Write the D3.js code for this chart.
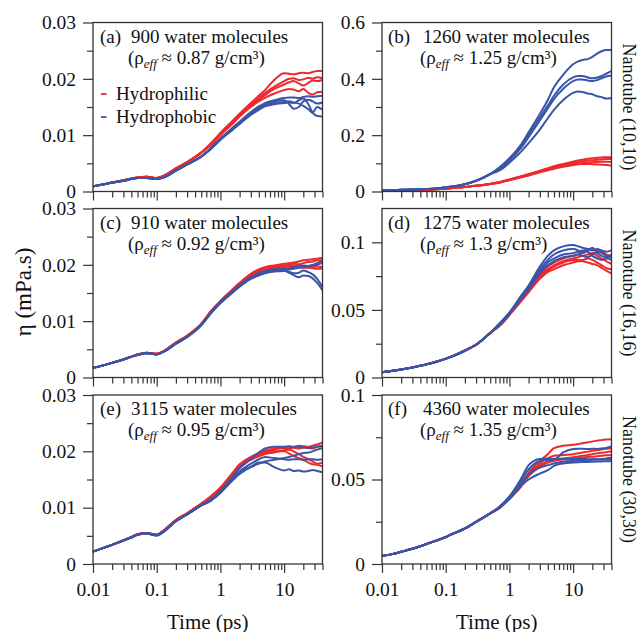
<!DOCTYPE html>
<html>
<head>
<meta charset="utf-8">
<script src="https://cdn.jsdelivr.net/npm/d3@7"></script>
<style>
  html, body { margin: 0; padding: 0; background: #fff; }
  svg { display: block; font-family: "Liberation Serif", "Times New Roman", serif; }
  text { font-family: "Liberation Serif", "Times New Roman", serif; fill: #111; }
</style>
</head>
<body>
<svg id="chart" width="638" height="632"></svg>
<script>
// Time grid (ps): short-time part shared by all runs, long-time part per run
const tEarly = [0.01, 0.015, 0.02, 0.03, 0.04, 0.05, 0.07, 0.1, 0.13, 0.2, 0.3, 0.5];
const tLate  = [0.7, 1, 1.5, 2, 3, 4, 5, 7, 10, 12, 14, 17, 20, 24, 28, 33, 40];

// (a) 900 molecules, (10,10)
const aRedEarly  = [0.00095, 0.0013, 0.0016, 0.0020, 0.0023, 0.0025, 0.0026, 0.0024, 0.0028, 0.0041, 0.0052, 0.0069];
const aBlueEarly = [0.00095, 0.0013, 0.0016, 0.0019, 0.0022, 0.0024, 0.0024, 0.0022, 0.0025, 0.0037, 0.0048, 0.0062];
const aRed = [
  [0.0085, 0.0104, 0.0124, 0.0138, 0.0157, 0.0170, 0.0180, 0.0198, 0.0210, 0.0209, 0.0208, 0.0210, 0.0211, 0.0210, 0.0212, 0.0214, 0.0214],
  [0.0084, 0.0102, 0.0122, 0.0136, 0.0154, 0.0166, 0.0175, 0.0186, 0.0196, 0.0200, 0.0201, 0.0198, 0.0199, 0.0202, 0.0200, 0.0203, 0.0201],
  [0.0083, 0.0101, 0.0120, 0.0134, 0.0152, 0.0163, 0.0171, 0.0182, 0.0190, 0.0194, 0.0196, 0.0192, 0.0188, 0.0193, 0.0197, 0.0196, 0.0198],
  [0.0082, 0.0100, 0.0119, 0.0133, 0.0150, 0.0160, 0.0166, 0.0174, 0.0180, 0.0182, 0.0181, 0.0178, 0.0182, 0.0175, 0.0172, 0.0176, 0.0177]
];
const aBlue = [
  [0.0077, 0.0094, 0.0112, 0.0124, 0.0141, 0.0151, 0.0157, 0.0162, 0.0166, 0.0167, 0.0167, 0.0166, 0.0168, 0.0169, 0.0168, 0.0169, 0.0170],
  [0.0076, 0.0093, 0.0110, 0.0122, 0.0139, 0.0149, 0.0155, 0.0160, 0.0162, 0.0155, 0.0147, 0.0150, 0.0160, 0.0163, 0.0160, 0.0156, 0.0158],
  [0.0075, 0.0092, 0.0109, 0.0121, 0.0137, 0.0147, 0.0153, 0.0157, 0.0159, 0.0160, 0.0158, 0.0156, 0.0152, 0.0146, 0.0140, 0.0150, 0.0145],
  [0.0075, 0.0092, 0.0108, 0.0120, 0.0136, 0.0145, 0.0151, 0.0155, 0.0157, 0.0158, 0.0157, 0.0162, 0.0165, 0.0155, 0.0140, 0.0134, 0.0133]
];

// (b) 1260 molecules, (10,10)
const bRedEarly  = [0.003, 0.0035, 0.004, 0.005, 0.006, 0.007, 0.008, 0.010, 0.012, 0.016, 0.020, 0.027];
const bBlueEarly = [0.004, 0.005, 0.006, 0.007, 0.008, 0.009, 0.011, 0.015, 0.018, 0.026, 0.038, 0.062];
const bRed = [
  [0.034, 0.043, 0.054, 0.062, 0.074, 0.083, 0.090, 0.098, 0.106, 0.110, 0.113, 0.116, 0.118, 0.120, 0.121, 0.122, 0.122],
  [0.033, 0.042, 0.052, 0.060, 0.071, 0.079, 0.085, 0.093, 0.101, 0.105, 0.107, 0.110, 0.111, 0.113, 0.114, 0.115, 0.115],
  [0.032, 0.041, 0.051, 0.058, 0.069, 0.077, 0.083, 0.090, 0.097, 0.100, 0.101, 0.103, 0.104, 0.105, 0.106, 0.106, 0.105],
  [0.031, 0.040, 0.050, 0.057, 0.068, 0.075, 0.081, 0.088, 0.094, 0.097, 0.098, 0.098, 0.097, 0.096, 0.095, 0.094, 0.092]
];
const bBlue = [
  [0.086, 0.118, 0.165, 0.210, 0.275, 0.325, 0.370, 0.415, 0.452, 0.462, 0.467, 0.470, 0.478, 0.490, 0.498, 0.502, 0.502],
  [0.083, 0.113, 0.158, 0.200, 0.262, 0.305, 0.340, 0.380, 0.405, 0.410, 0.410, 0.405, 0.402, 0.405, 0.410, 0.418, 0.428],
  [0.080, 0.110, 0.153, 0.193, 0.252, 0.295, 0.328, 0.365, 0.392, 0.398, 0.398, 0.394, 0.392, 0.396, 0.402, 0.408, 0.412],
  [0.075, 0.102, 0.140, 0.172, 0.220, 0.260, 0.290, 0.325, 0.350, 0.355, 0.353, 0.348, 0.345, 0.338, 0.335, 0.330, 0.332]
];

// (c) 910 molecules, (16,16)
const cRedEarly  = [0.0017, 0.0022, 0.0026, 0.0032, 0.0037, 0.0041, 0.0044, 0.0042, 0.0047, 0.0062, 0.0074, 0.0095];
const cBlueEarly = [0.0017, 0.0022, 0.0026, 0.0032, 0.0037, 0.0040, 0.0043, 0.0041, 0.0046, 0.0060, 0.0072, 0.0093];
const cRed = [
  [0.0117, 0.0136, 0.0155, 0.0168, 0.0184, 0.0192, 0.0196, 0.0199, 0.0202, 0.0203, 0.0204, 0.0206, 0.0208, 0.0209, 0.0210, 0.0211, 0.0212],
  [0.0117, 0.0135, 0.0154, 0.0167, 0.0183, 0.0190, 0.0194, 0.0197, 0.0199, 0.0200, 0.0202, 0.0201, 0.0203, 0.0205, 0.0206, 0.0208, 0.0208],
  [0.0116, 0.0135, 0.0153, 0.0166, 0.0181, 0.0188, 0.0192, 0.0195, 0.0197, 0.0198, 0.0197, 0.0199, 0.0198, 0.0197, 0.0196, 0.0197, 0.0196],
  [0.0116, 0.0134, 0.0152, 0.0165, 0.0180, 0.0186, 0.0190, 0.0193, 0.0196, 0.0197, 0.0198, 0.0196, 0.0195, 0.0195, 0.0194, 0.0193, 0.0194]
];
const cBlue = [
  [0.0115, 0.0134, 0.0152, 0.0164, 0.0178, 0.0185, 0.0189, 0.0192, 0.0193, 0.0194, 0.0196, 0.0198, 0.0199, 0.0198, 0.0200, 0.0203, 0.0208],
  [0.0114, 0.0133, 0.0151, 0.0163, 0.0177, 0.0184, 0.0188, 0.0190, 0.0191, 0.0192, 0.0193, 0.0195, 0.0196, 0.0198, 0.0199, 0.0200, 0.0204],
  [0.0114, 0.0132, 0.0150, 0.0162, 0.0176, 0.0182, 0.0186, 0.0189, 0.0190, 0.0188, 0.0185, 0.0186, 0.0190, 0.0187, 0.0183, 0.0175, 0.0160],
  [0.0113, 0.0132, 0.0149, 0.0161, 0.0175, 0.0181, 0.0185, 0.0188, 0.0189, 0.0186, 0.0182, 0.0178, 0.0181, 0.0180, 0.0176, 0.0168, 0.0155]
];

// (d) 1275 molecules, (16,16)
const dRedEarly  = [0.0039, 0.0050, 0.0060, 0.0075, 0.0088, 0.0098, 0.0117, 0.0140, 0.0160, 0.0200, 0.0243, 0.0330];
const dBlueEarly = [0.0039, 0.0050, 0.0059, 0.0074, 0.0087, 0.0097, 0.0115, 0.0138, 0.0158, 0.0198, 0.0242, 0.0330];
const dRed = [
  [0.039, 0.047, 0.058, 0.065, 0.076, 0.082, 0.085, 0.088, 0.090, 0.091, 0.093, 0.095, 0.095, 0.094, 0.093, 0.091, 0.090],
  [0.039, 0.047, 0.057, 0.064, 0.075, 0.080, 0.083, 0.086, 0.088, 0.089, 0.090, 0.091, 0.092, 0.090, 0.088, 0.086, 0.084],
  [0.039, 0.047, 0.057, 0.064, 0.074, 0.079, 0.082, 0.085, 0.087, 0.087, 0.087, 0.088, 0.087, 0.085, 0.083, 0.081, 0.080],
  [0.038, 0.046, 0.056, 0.063, 0.073, 0.078, 0.080, 0.083, 0.085, 0.086, 0.086, 0.085, 0.084, 0.083, 0.081, 0.079, 0.077]
];
const dBlue = [
  [0.040, 0.048, 0.060, 0.068, 0.082, 0.090, 0.094, 0.097, 0.098, 0.097, 0.096, 0.095, 0.094, 0.095, 0.094, 0.093, 0.094],
  [0.040, 0.048, 0.059, 0.067, 0.080, 0.087, 0.091, 0.094, 0.095, 0.094, 0.092, 0.094, 0.096, 0.092, 0.090, 0.089, 0.091],
  [0.039, 0.047, 0.058, 0.066, 0.078, 0.085, 0.088, 0.091, 0.092, 0.093, 0.094, 0.093, 0.090, 0.088, 0.087, 0.088, 0.087],
  [0.039, 0.047, 0.058, 0.065, 0.077, 0.083, 0.086, 0.089, 0.090, 0.091, 0.090, 0.089, 0.091, 0.093, 0.092, 0.090, 0.089]
];

// (e) 3115 molecules, (30,30)
const eRedEarly  = [0.0022, 0.0029, 0.0034, 0.0042, 0.0048, 0.0053, 0.0055, 0.0052, 0.0060, 0.0078, 0.0090, 0.0107];
const eBlueEarly = [0.0022, 0.0029, 0.0034, 0.0042, 0.0047, 0.0052, 0.0054, 0.0051, 0.0058, 0.0076, 0.0088, 0.0104];
const eRed = [
  [0.0120, 0.0136, 0.0160, 0.0177, 0.0190, 0.0197, 0.0201, 0.0205, 0.0207, 0.0209, 0.0208, 0.0210, 0.0209, 0.0208, 0.0210, 0.0212, 0.0216],
  [0.0119, 0.0135, 0.0158, 0.0175, 0.0188, 0.0195, 0.0199, 0.0203, 0.0206, 0.0205, 0.0207, 0.0205, 0.0207, 0.0206, 0.0205, 0.0208, 0.0210],
  [0.0119, 0.0134, 0.0157, 0.0173, 0.0186, 0.0193, 0.0197, 0.0200, 0.0200, 0.0196, 0.0192, 0.0188, 0.0185, 0.0180, 0.0177, 0.0176, 0.0173],
  [0.0118, 0.0133, 0.0156, 0.0172, 0.0185, 0.0191, 0.0195, 0.0198, 0.0202, 0.0203, 0.0200, 0.0195, 0.0190, 0.0186, 0.0182, 0.0178, 0.0180]
];
const eBlue = [
  [0.0114, 0.0130, 0.0153, 0.0170, 0.0186, 0.0198, 0.0205, 0.0208, 0.0208, 0.0208, 0.0207, 0.0208, 0.0207, 0.0206, 0.0207, 0.0208, 0.0210],
  [0.0113, 0.0128, 0.0150, 0.0164, 0.0178, 0.0186, 0.0190, 0.0188, 0.0186, 0.0185, 0.0186, 0.0186, 0.0185, 0.0186, 0.0186, 0.0185, 0.0186],
  [0.0112, 0.0127, 0.0148, 0.0162, 0.0173, 0.0180, 0.0180, 0.0172, 0.0166, 0.0168, 0.0165, 0.0166, 0.0164, 0.0165, 0.0167, 0.0165, 0.0163],
  [0.0112, 0.0126, 0.0147, 0.0160, 0.0172, 0.0178, 0.0182, 0.0185, 0.0188, 0.0190, 0.0192, 0.0195, 0.0197, 0.0198, 0.0200, 0.0203, 0.0206]
];

// (f) 4360 molecules, (30,30)
const fRedEarly  = [0.0047, 0.0060, 0.0072, 0.0090, 0.0105, 0.0118, 0.0138, 0.0160, 0.0180, 0.0210, 0.0250, 0.0300];
const fBlueEarly = [0.0047, 0.0060, 0.0072, 0.0090, 0.0105, 0.0118, 0.0137, 0.0159, 0.0179, 0.0209, 0.0249, 0.0300];
const fRed = [
  [0.0335, 0.0390, 0.0465, 0.0540, 0.0610, 0.0650, 0.0685, 0.0700, 0.0705, 0.0710, 0.0715, 0.0720, 0.0725, 0.0730, 0.0733, 0.0737, 0.0738],
  [0.0333, 0.0388, 0.0460, 0.0530, 0.0595, 0.0625, 0.0640, 0.0645, 0.0650, 0.0655, 0.0660, 0.0665, 0.0670, 0.0675, 0.0678, 0.0682, 0.0685],
  [0.0332, 0.0387, 0.0458, 0.0525, 0.0585, 0.0605, 0.0615, 0.0625, 0.0632, 0.0636, 0.0640, 0.0645, 0.0650, 0.0655, 0.0658, 0.0662, 0.0665],
  [0.0330, 0.0385, 0.0455, 0.0520, 0.0575, 0.0600, 0.0610, 0.0618, 0.0625, 0.0628, 0.0630, 0.0633, 0.0635, 0.0638, 0.0640, 0.0643, 0.0645]
];
const fBlue = [
  [0.0340, 0.0400, 0.0500, 0.0585, 0.0622, 0.0624, 0.0622, 0.0623, 0.0622, 0.0621, 0.0622, 0.0620, 0.0621, 0.0620, 0.0619, 0.0620, 0.0621],
  [0.0338, 0.0396, 0.0490, 0.0560, 0.0610, 0.0615, 0.0618, 0.0660, 0.0680, 0.0682, 0.0682, 0.0680, 0.0682, 0.0681, 0.0683, 0.0687, 0.0695],
  [0.0335, 0.0390, 0.0475, 0.0530, 0.0570, 0.0585, 0.0595, 0.0605, 0.0610, 0.0612, 0.0614, 0.0615, 0.0617, 0.0618, 0.0620, 0.0625, 0.0628],
  [0.0333, 0.0385, 0.0460, 0.0500, 0.0535, 0.0555, 0.0580, 0.0595, 0.0600, 0.0602, 0.0603, 0.0604, 0.0605, 0.0606, 0.0607, 0.0608, 0.0610]
];

// Labels
const panelLetters = ["(a)", "(b)", "(c)", "(d)", "(e)", "(f)"];
const moleculeCounts = ["900", "1260", "910", "1275", "3115", "4360"];
const densities = ["0.87", "1.25", "0.92", "1.3", "0.95", "1.35"];
const tubeLabels = ["Nanotube (10,10)", "Nanotube (16,16)", "Nanotube (30,30)"];
const seriesNames = ["Hydrophilic", "Hydrophobic"];
const xTicks = [0.01, 0.1, 1, 10];
const xTickLabels = ["0.01", "0.1", "1", "10"];
const xMinor = [0.02,0.03,0.04,0.05,0.06,0.07,0.08,0.09,0.2,0.3,0.4,0.5,0.6,0.7,0.8,0.9,2,3,4,5,6,7,8,9,20,30,40];
const yMax = [0.03, 0.6, 0.03, 0.125, 0.03, 0.1];
const yTicks = [
  [0, 0.01, 0.02, 0.03], [0, 0.2, 0.4, 0.6],
  [0, 0.01, 0.02, 0.03], [0, 0.05, 0.1],
  [0, 0.01, 0.02, 0.03], [0, 0.05, 0.1]
];
const yTickLabels = [
  ["0", "0.01", "0.02", "0.03"], ["0", "0.2", "0.4", "0.6"],
  ["0", "0.01", "0.02", "0.03"], ["0", "0.05", "0.1"],
  ["0", "0.01", "0.02", "0.03"], ["0", "0.05", "0.1"]
];
const yMinor = [
  [0.005, 0.015, 0.025], [0.1, 0.3, 0.5],
  [0.005, 0.015, 0.025], [0.025, 0.075],
  [0.005, 0.015, 0.025], [0.025, 0.075]
];

const redEarly = [aRedEarly, bRedEarly, cRedEarly, dRedEarly, eRedEarly, fRedEarly];
const blueEarly = [aBlueEarly, bBlueEarly, cBlueEarly, dBlueEarly, eBlueEarly, fBlueEarly];
const redLate = [aRed, bRed, cRed, dRed, eRed, fRed];
const blueLate = [aBlue, bBlue, cBlue, dBlue, eBlue, fBlue];

const RED = "#ec2a2e";
const BLUE = "#3a55a7";
const AXIS = "#333";
const FONT = "'Liberation Serif', 'Times New Roman', serif";

// Layout
const colLeft = [93, 382];
const plotW = 229.5;
const rowTop = [22.5, 208.5, 395];
const plotH = 169;

const svg = d3.select("#chart");
const times = tEarly.concat(tLate);

const line = d3.line().curve(d3.curveMonotoneX);

for (let p = 0; p < 6; p++) {
  const col = p % 2, row = Math.floor(p / 2);
  const x0 = colLeft[col], y0 = rowTop[row];
  const x = d3.scaleLog().domain([0.01, 40]).range([0, plotW]);
  const y = d3.scaleLinear().domain([0, yMax[p]]).range([plotH, 0]);
  const g = svg.append("g").attr("transform", `translate(${x0},${y0})`);

  line.x(d => x(d[0])).y(d => y(d[1]));

  const runs = [];
  redLate[p].forEach(late => runs.push({ color: RED, vals: redEarly[p].concat(late) }));
  blueLate[p].forEach(late => runs.push({ color: BLUE, vals: blueEarly[p].concat(late) }));

  g.append("g").selectAll("path").data(runs).join("path")
    .attr("d", r => line(times.map((t, i) => [t, r.vals[i]])))
    .attr("fill", "none")
    .attr("stroke", r => r.color)
    .attr("stroke-width", 2)
    .attr("stroke-linejoin", "round");

  // Frame
  g.append("rect").attr("width", plotW).attr("height", plotH)
    .attr("fill", "none").attr("stroke", AXIS).attr("stroke-width", 1.3);

  // Y axis: labelled major ticks and unlabelled minor ticks
  g.append("g").call(d3.axisLeft(y).tickValues(yTicks[p]).tickSize(10).tickPadding(7)
    .tickFormat((d, i) => yTickLabels[p][i]));
  g.append("g").call(d3.axisLeft(y).tickValues(yMinor[p]).tickSize(6).tickFormat(""));

  // X axis (labels on the bottom row only)
  g.append("g").attr("transform", `translate(0,${plotH})`)
    .call(d3.axisBottom(x).tickValues(xTicks).tickSize(9).tickPadding(9)
      .tickFormat((d, i) => row === 2 ? xTickLabels[i] : ""));
  g.append("g").attr("transform", `translate(0,${plotH})`)
    .call(d3.axisBottom(x).tickValues(xMinor).tickSize(6).tickFormat(""));

  g.selectAll(".domain").remove();
  g.selectAll(".tick line").attr("stroke", AXIS).attr("stroke-width", 1.2);
  g.selectAll("g").attr("font-family", FONT);
  g.selectAll(".tick text")
    .attr("font-family", FONT)
    .attr("font-size", 19.5)
    .attr("fill", "#111");

  // Panel title
  const lx = col === 0 ? 7 : 6;
  const mx = col === 0 ? 38 : 41;
  const tx = col === 0 ? 35 : 38;
  g.append("text").attr("x", lx).attr("y", 20).attr("font-size", 19).text(panelLetters[p]);
  g.append("text").attr("x", mx).attr("y", 20).attr("font-size", 19)
    .text(moleculeCounts[p] + " water molecules");
  const l2 = g.append("text").attr("x", tx).attr("y", 41).attr("font-size", 19);
  l2.append("tspan").text("(ρ");
  l2.append("tspan").attr("font-size", 13).attr("font-style", "italic").attr("dy", 4).text("eff");
  l2.append("tspan").attr("dy", -4).text(" ≈ " + densities[p] + " g/cm³)");

  // Row label on the right
  if (col === 1) {
    svg.append("text")
      .attr("transform", `translate(623,${y0 + plotH / 2}) rotate(90)`)
      .attr("text-anchor", "middle")
      .attr("font-size", 18)
      .text(tubeLabels[row]);
  }

  // Legend
  if (p === 0) {
    const leg = g.append("g");
    [RED, BLUE].forEach((c, i) => {
      const ly = 71.5 + i * 23;
      leg.append("line").attr("x1", 8).attr("x2", 13.5).attr("y1", ly).attr("y2", ly)
        .attr("stroke", c).attr("stroke-width", 1.8);
      leg.append("text").attr("x", 23).attr("y", ly + 5.5).attr("font-size", 19).text(seriesNames[i]);
    });
  }

  if (row === 2) {
    svg.append("text").attr("x", x0 + plotW / 2).attr("y", 629)
      .attr("text-anchor", "middle").attr("font-size", 21).text("Time (ps)");
  }
}

// Shared y axis title
svg.append("text")
  .attr("transform", "translate(31,292) rotate(-90)")
  .attr("text-anchor", "middle")
  .attr("font-size", 23)
  .text("η (mPa.s)");
</script>
</body>
</html>
